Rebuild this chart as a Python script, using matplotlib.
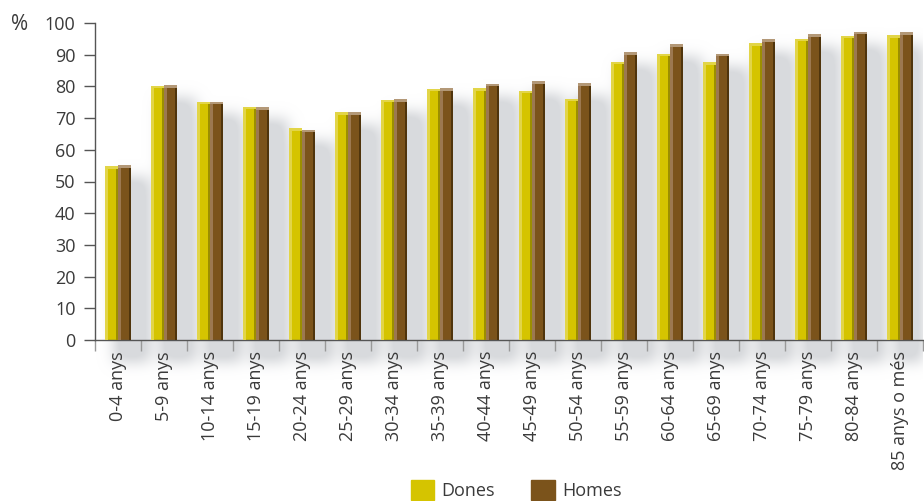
import numpy as np
import matplotlib
matplotlib.use("Agg")
import matplotlib.pyplot as plt
import matplotlib.patches as patches

# Percentage by age group, women (Dones) and men (Homes)
age_groups = ["0-4 anys", "5-9 anys", "10-14 anys", "15-19 anys", "20-24 anys",
              "25-29 anys", "30-34 anys", "35-39 anys", "40-44 anys", "45-49 anys",
              "50-54 anys", "55-59 anys", "60-64 anys", "65-69 anys", "70-74 anys",
              "75-79 anys", "80-84 anys", "85 anys o més"]
dones = [54.9, 80.2, 75.2, 73.6, 66.8, 71.8, 75.8, 79.3, 79.5, 78.6,
         76.1, 87.8, 90.3, 87.6, 93.6, 95.0, 96.0, 96.2]
homes = [55.2, 80.3, 75.2, 73.5, 66.3, 71.8, 76.0, 79.5, 80.8, 81.7,
         81.0, 90.8, 93.3, 90.3, 94.9, 96.5, 97.2, 97.1]

YELLOW = "#d5c400"
YELLOW_HI = "#e2d548"
YELLOW_LO = "#9c8e00"
BROWN = "#7b531b"
BROWN_HI = "#9c7850"
BROWN_LO = "#4f340c"
BROWN_CAP = "#b39877"
TEXT = "#3a3a3a"
AXIS = "#555555"

plt.rcParams["font.family"] = ["Open Sans", "DejaVu Sans"]

fig = plt.figure(figsize=(9.24, 5.01), dpi=100)
ax = fig.add_axes([95 / 924, 161 / 501, 828 / 924, 317 / 501])

n = len(age_groups)
x = np.arange(n)
w = 0.28
off = 0.14
px = 1 / 46.0  # one pixel in x data units

# soft drop shadow behind each pair of bars
gx = np.linspace(-0.5, n - 0.5, 828)
gy = np.linspace(-15, 112, 402)
mask = np.zeros((gy.size, gx.size))
for i in range(n):
    top = max(dones[i], homes[i])
    inx = (gx >= i - w + 8 * px) & (gx <= i + w + 19 * px)
    iny = (gy <= top - 4.0) & (gy >= -7.0)
    mask[np.ix_(iny, inx)] = 1.0


def blur(a, sigma):
    r = int(3 * sigma)
    k = np.exp(-0.5 * (np.arange(-r, r + 1) / sigma) ** 2)
    k /= k.sum()
    a = np.apply_along_axis(lambda v: np.convolve(v, k, mode="same"), 1, a)
    a = np.apply_along_axis(lambda v: np.convolve(v, k, mode="same"), 0, a)
    return a


shadow = blur(mask, 7)
rgba = np.zeros(shadow.shape + (4,))
rgba[..., 0] = 0.85
rgba[..., 1] = 0.855
rgba[..., 2] = 0.87
rgba[..., 3] = np.clip(1.3 * shadow, 0, 1)
ax.imshow(rgba, extent=(-0.5, n - 0.5, -15, 112), origin="lower",
          aspect="auto", zorder=0, clip_on=False, interpolation="bilinear")


def shaded_bar(xc, h, face, hi, lo, cap):
    ax.bar(xc, h, w, color=face, zorder=2, linewidth=0)
    ax.bar(xc - w / 2 + 1.6 * px, h, 3.2 * px, color=hi, zorder=3, linewidth=0)
    ax.bar(xc + w / 2 - 1.0 * px, h, 2.0 * px, color=lo, zorder=3, linewidth=0)
    ax.bar(xc, 0.8, w, bottom=h - 0.8, color=cap, zorder=4, linewidth=0)


for i in range(n):
    shaded_bar(x[i] - off, dones[i], YELLOW, YELLOW_HI, YELLOW_LO, YELLOW_HI)
    shaded_bar(x[i] + off, homes[i], BROWN, BROWN_HI, BROWN_LO, BROWN_CAP)

ax.set_xlim(-0.5, n - 0.5)
ax.set_ylim(0, 100)
ax.set_facecolor("none")

for s in ("top", "right"):
    ax.spines[s].set_visible(False)
ax.spines["left"].set_color(AXIS)
ax.spines["bottom"].set_color(AXIS)
ax.spines["left"].set_linewidth(1.0)
ax.spines["bottom"].set_linewidth(1.0)

ax.set_yticks(np.arange(0, 101, 10))
ax.tick_params(axis="y", length=8, width=1, color=AXIS, labelsize=13,
               labelcolor=TEXT, pad=6)

# category boundaries as ticks, labels centred under each group
ax.set_xticks(np.arange(-0.5, n, 1.0))
ax.set_xticklabels([])
ax.tick_params(axis="x", which="major", length=8, width=1, color="#999999")
ax.set_xticks(x, minor=True)
ax.set_xticklabels(age_groups, minor=True, rotation=90, fontsize=13,
                   color=TEXT, va="top", ha="center")
ax.tick_params(axis="x", which="minor", length=0, pad=8)

fig.text(11 / 924, 1 - 24 / 501, "%", fontsize=15, color=TEXT,
         ha="left", va="center")

handles = [patches.Patch(color=YELLOW, label="Dones"),
           patches.Patch(color=BROWN, label="Homes")]
fig.legend(handles=handles, loc="center", bbox_to_anchor=(516 / 924, 11 / 501),
           ncol=2, frameon=False, fontsize=13, handlelength=1.3,
           handleheight=1.3, handletextpad=0.4, columnspacing=2.0,
           labelcolor=TEXT)

fig.savefig("out.png", dpi=100)
